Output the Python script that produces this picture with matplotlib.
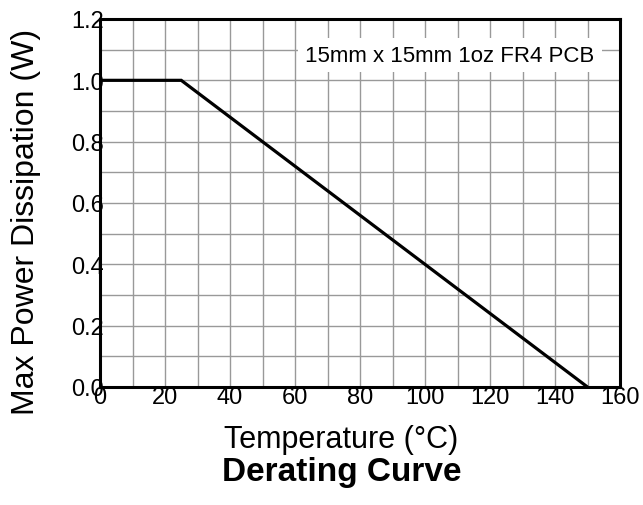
import matplotlib
matplotlib.use("Agg")
import matplotlib.pyplot as plt
from matplotlib.ticker import MultipleLocator

plt.rcParams['font.family'] = ['Liberation Sans', 'DejaVu Sans']

# Derating curve breakpoints
temperature_c = [0, 25, 150]
max_power_w = [1.0, 1.0, 0.0]

x_ticks = [0, 20, 40, 60, 80, 100, 120, 140, 160]
y_ticks = [0.0, 0.2, 0.4, 0.6, 0.8, 1.0, 1.2]
y_tick_labels = ["0.0", "0.2", "0.4", "0.6", "0.8", "1.0", "1.2"]

W, H = 643, 506
fig = plt.figure(figsize=(W / 100, H / 100), dpi=100)
ax = fig.add_axes([100 / W, 1 - 388 / H, 520 / W, 368 / H])

ax.plot(temperature_c, max_power_w, color='black', lw=2.3, solid_capstyle='butt',
        solid_joinstyle='miter', zorder=3)

ax.set_xlim(0, 160)
ax.set_ylim(0, 1.2)
ax.set_xticks(x_ticks)
ax.set_yticks(y_ticks)
ax.set_yticklabels(y_tick_labels)
ax.xaxis.set_minor_locator(MultipleLocator(10))
ax.yaxis.set_minor_locator(MultipleLocator(0.1))
ax.grid(True, which='both', color='#999999', lw=1.0)
ax.set_axisbelow(True)
ax.tick_params(which='both', length=0, labelsize=17)
ax.tick_params(axis='y', pad=-3)
ax.tick_params(axis='x', pad=-1)
for s in ax.spines.values():
    s.set_linewidth(2.2)
    s.set_color('black')

# board note in the upper right, on a white patch that hides the grid
ax.text((450 - 100) / 520, (388 - 56) / 368, "15mm x 15mm 1oz FR4 PCB",
        transform=ax.transAxes, ha='center', va='center', fontsize=16,
        bbox=dict(facecolor='white', edgecolor='none', pad=5), zorder=4)

fig.text(26 / W, 1 - 222 / H, "Max Power Dissipation (W)", rotation=90,
         ha='center', va='center', fontsize=23)
fig.text(341 / W, 1 - 448 / H, "Temperature (°C)", ha='center', va='baseline',
         fontsize=22)
fig.text(342 / W, 1 - 481 / H, "Derating Curve", ha='center', va='baseline',
         fontsize=24, fontweight='bold')

fig.savefig("out.png", dpi=100)
